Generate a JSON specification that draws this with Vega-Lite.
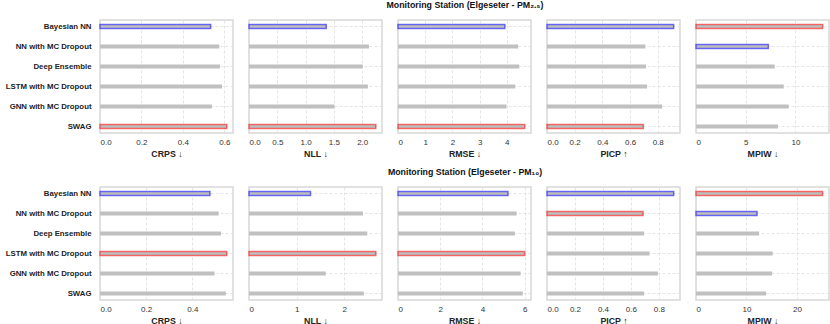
{
  "$schema": "https://vega.github.io/schema/vega-lite/v6.json",
  "background": "white",
  "padding": {"left": 4, "right": 2, "top": 1, "bottom": 0},
  "data": {"values": [
    {"station": "PM2.5", "metric": "CRPS", "model": "Bayesian NN", "value": 0.534, "highlight": "best"},
    {"station": "PM2.5", "metric": "CRPS", "model": "NN with MC Dropout", "value": 0.576, "highlight": "none"},
    {"station": "PM2.5", "metric": "CRPS", "model": "Deep Ensemble", "value": 0.579, "highlight": "none"},
    {"station": "PM2.5", "metric": "CRPS", "model": "LSTM with MC Dropout", "value": 0.589, "highlight": "none"},
    {"station": "PM2.5", "metric": "CRPS", "model": "GNN with MC Dropout", "value": 0.540, "highlight": "none"},
    {"station": "PM2.5", "metric": "CRPS", "model": "SWAG", "value": 0.612, "highlight": "worst"},
    {"station": "PM2.5", "metric": "NLL", "model": "Bayesian NN", "value": 1.365, "highlight": "best"},
    {"station": "PM2.5", "metric": "NLL", "model": "NN with MC Dropout", "value": 2.12, "highlight": "none"},
    {"station": "PM2.5", "metric": "NLL", "model": "Deep Ensemble", "value": 2.01, "highlight": "none"},
    {"station": "PM2.5", "metric": "NLL", "model": "LSTM with MC Dropout", "value": 2.10, "highlight": "none"},
    {"station": "PM2.5", "metric": "NLL", "model": "GNN with MC Dropout", "value": 1.51, "highlight": "none"},
    {"station": "PM2.5", "metric": "NLL", "model": "SWAG", "value": 2.24, "highlight": "worst"},
    {"station": "PM2.5", "metric": "RMSE", "model": "Bayesian NN", "value": 3.93, "highlight": "best"},
    {"station": "PM2.5", "metric": "RMSE", "model": "NN with MC Dropout", "value": 4.42, "highlight": "none"},
    {"station": "PM2.5", "metric": "RMSE", "model": "Deep Ensemble", "value": 4.46, "highlight": "none"},
    {"station": "PM2.5", "metric": "RMSE", "model": "LSTM with MC Dropout", "value": 4.31, "highlight": "none"},
    {"station": "PM2.5", "metric": "RMSE", "model": "GNN with MC Dropout", "value": 3.99, "highlight": "none"},
    {"station": "PM2.5", "metric": "RMSE", "model": "SWAG", "value": 4.66, "highlight": "worst"},
    {"station": "PM2.5", "metric": "PICP", "model": "Bayesian NN", "value": 0.915, "highlight": "best"},
    {"station": "PM2.5", "metric": "PICP", "model": "NN with MC Dropout", "value": 0.711, "highlight": "none"},
    {"station": "PM2.5", "metric": "PICP", "model": "Deep Ensemble", "value": 0.715, "highlight": "none"},
    {"station": "PM2.5", "metric": "PICP", "model": "LSTM with MC Dropout", "value": 0.723, "highlight": "none"},
    {"station": "PM2.5", "metric": "PICP", "model": "GNN with MC Dropout", "value": 0.832, "highlight": "none"},
    {"station": "PM2.5", "metric": "PICP", "model": "SWAG", "value": 0.696, "highlight": "worst"},
    {"station": "PM2.5", "metric": "MPIW", "model": "Bayesian NN", "value": 12.73, "highlight": "worst"},
    {"station": "PM2.5", "metric": "MPIW", "model": "NN with MC Dropout", "value": 7.27, "highlight": "best"},
    {"station": "PM2.5", "metric": "MPIW", "model": "Deep Ensemble", "value": 7.91, "highlight": "none"},
    {"station": "PM2.5", "metric": "MPIW", "model": "LSTM with MC Dropout", "value": 8.82, "highlight": "none"},
    {"station": "PM2.5", "metric": "MPIW", "model": "GNN with MC Dropout", "value": 9.32, "highlight": "none"},
    {"station": "PM2.5", "metric": "MPIW", "model": "SWAG", "value": 8.24, "highlight": "none"},
    {"station": "PM10", "metric": "CRPS", "model": "Bayesian NN", "value": 0.476, "highlight": "best"},
    {"station": "PM10", "metric": "CRPS", "model": "NN with MC Dropout", "value": 0.514, "highlight": "none"},
    {"station": "PM10", "metric": "CRPS", "model": "Deep Ensemble", "value": 0.524, "highlight": "none"},
    {"station": "PM10", "metric": "CRPS", "model": "LSTM with MC Dropout", "value": 0.549, "highlight": "worst"},
    {"station": "PM10", "metric": "CRPS", "model": "GNN with MC Dropout", "value": 0.496, "highlight": "none"},
    {"station": "PM10", "metric": "CRPS", "model": "SWAG", "value": 0.545, "highlight": "none"},
    {"station": "PM10", "metric": "NLL", "model": "Bayesian NN", "value": 1.29, "highlight": "best"},
    {"station": "PM10", "metric": "NLL", "model": "NN with MC Dropout", "value": 2.39, "highlight": "none"},
    {"station": "PM10", "metric": "NLL", "model": "Deep Ensemble", "value": 2.48, "highlight": "none"},
    {"station": "PM10", "metric": "NLL", "model": "LSTM with MC Dropout", "value": 2.66, "highlight": "worst"},
    {"station": "PM10", "metric": "NLL", "model": "GNN with MC Dropout", "value": 1.61, "highlight": "none"},
    {"station": "PM10", "metric": "NLL", "model": "SWAG", "value": 2.41, "highlight": "none"},
    {"station": "PM10", "metric": "RMSE", "model": "Bayesian NN", "value": 5.21, "highlight": "best"},
    {"station": "PM10", "metric": "RMSE", "model": "NN with MC Dropout", "value": 5.62, "highlight": "none"},
    {"station": "PM10", "metric": "RMSE", "model": "Deep Ensemble", "value": 5.54, "highlight": "none"},
    {"station": "PM10", "metric": "RMSE", "model": "LSTM with MC Dropout", "value": 6.0, "highlight": "worst"},
    {"station": "PM10", "metric": "RMSE", "model": "GNN with MC Dropout", "value": 5.81, "highlight": "none"},
    {"station": "PM10", "metric": "RMSE", "model": "SWAG", "value": 5.91, "highlight": "none"},
    {"station": "PM10", "metric": "PICP", "model": "Bayesian NN", "value": 0.906, "highlight": "best"},
    {"station": "PM10", "metric": "PICP", "model": "NN with MC Dropout", "value": 0.687, "highlight": "worst"},
    {"station": "PM10", "metric": "PICP", "model": "Deep Ensemble", "value": 0.694, "highlight": "none"},
    {"station": "PM10", "metric": "PICP", "model": "LSTM with MC Dropout", "value": 0.733, "highlight": "none"},
    {"station": "PM10", "metric": "PICP", "model": "GNN with MC Dropout", "value": 0.793, "highlight": "none"},
    {"station": "PM10", "metric": "PICP", "model": "SWAG", "value": 0.694, "highlight": "none"},
    {"station": "PM10", "metric": "MPIW", "model": "Bayesian NN", "value": 25.1, "highlight": "worst"},
    {"station": "PM10", "metric": "MPIW", "model": "NN with MC Dropout", "value": 12.1, "highlight": "best"},
    {"station": "PM10", "metric": "MPIW", "model": "Deep Ensemble", "value": 12.5, "highlight": "none"},
    {"station": "PM10", "metric": "MPIW", "model": "LSTM with MC Dropout", "value": 15.2, "highlight": "none"},
    {"station": "PM10", "metric": "MPIW", "model": "GNN with MC Dropout", "value": 15.1, "highlight": "none"},
    {"station": "PM10", "metric": "MPIW", "model": "SWAG", "value": 13.9, "highlight": "none"}
  ]},
  "spacing": 9,
  "vconcat": [
    {
      "title": {"text": "Monitoring Station (Elgeseter - PM₂.₅)", "anchor": "middle", "frame": "group", "dx": 365},
      "spacing": 16,
      "bounds": "flush",
      "hconcat": [
        {"width": 133, "height": 113, "transform": [{"filter": "datum.station == 'PM2.5' && datum.metric == 'CRPS'"}],
         "mark": {"type": "bar", "fill": "#c0c0c0", "strokeWidth": 1.5, "strokeOpacity": 0.55},
         "encoding": {
           "y": {"field": "model", "type": "nominal", "sort": null, "scale": {"paddingInner": 0.8, "paddingOuter": 0.225}, "axis": {"title": null, "labelFontWeight": "bold", "labelFontSize": 7.8, "labelColor": "#222", "labelPadding": 9, "bandPosition": 0.5}},
           "x": {"field": "value", "type": "quantitative", "scale": {"domain": [0, 0.642], "nice": false}, "axis": {"title": "CRPS ↓", "values": [0, 0.2, 0.4, 0.6], "format": ".1f"}},
           "stroke": {"field": "highlight", "type": "nominal", "scale": {"domain": ["best", "worst", "none"], "range": ["#0000ff", "#ff0000", "transparent"]}, "legend": null}
         }},
        {"width": 133, "height": 113, "transform": [{"filter": "datum.station == 'PM2.5' && datum.metric == 'NLL'"}],
         "mark": {"type": "bar", "fill": "#c0c0c0", "strokeWidth": 1.5, "strokeOpacity": 0.55},
         "encoding": {
           "y": {"field": "model", "type": "nominal", "sort": null, "scale": {"paddingInner": 0.8, "paddingOuter": 0.225}, "axis": {"title": null, "labels": false, "bandPosition": 0.5}},
           "x": {"field": "value", "type": "quantitative", "scale": {"domain": [0, 2.35], "nice": false}, "axis": {"title": "NLL ↓", "values": [0, 0.5, 1, 1.5, 2], "format": ".1f"}},
           "stroke": {"field": "highlight", "type": "nominal", "scale": {"domain": ["best", "worst", "none"], "range": ["#0000ff", "#ff0000", "transparent"]}, "legend": null}
         }},
        {"width": 133, "height": 113, "transform": [{"filter": "datum.station == 'PM2.5' && datum.metric == 'RMSE'"}],
         "mark": {"type": "bar", "fill": "#c0c0c0", "strokeWidth": 1.5, "strokeOpacity": 0.55},
         "encoding": {
           "y": {"field": "model", "type": "nominal", "sort": null, "scale": {"paddingInner": 0.8, "paddingOuter": 0.225}, "axis": {"title": null, "labels": false, "bandPosition": 0.5}},
           "x": {"field": "value", "type": "quantitative", "scale": {"domain": [0, 4.89], "nice": false}, "axis": {"title": "RMSE ↓", "values": [0, 1, 2, 3, 4], "format": "d"}},
           "stroke": {"field": "highlight", "type": "nominal", "scale": {"domain": ["best", "worst", "none"], "range": ["#0000ff", "#ff0000", "transparent"]}, "legend": null}
         }},
        {"width": 133, "height": 113, "transform": [{"filter": "datum.station == 'PM2.5' && datum.metric == 'PICP'"}],
         "mark": {"type": "bar", "fill": "#c0c0c0", "strokeWidth": 1.5, "strokeOpacity": 0.55},
         "encoding": {
           "y": {"field": "model", "type": "nominal", "sort": null, "scale": {"paddingInner": 0.8, "paddingOuter": 0.225}, "axis": {"title": null, "labels": false, "bandPosition": 0.5}},
           "x": {"field": "value", "type": "quantitative", "scale": {"domain": [0, 0.961], "nice": false}, "axis": {"title": "PICP ↑", "values": [0, 0.2, 0.4, 0.6, 0.8], "format": ".1f"}},
           "stroke": {"field": "highlight", "type": "nominal", "scale": {"domain": ["best", "worst", "none"], "range": ["#0000ff", "#ff0000", "transparent"]}, "legend": null}
         }},
        {"width": 133, "height": 113, "transform": [{"filter": "datum.station == 'PM2.5' && datum.metric == 'MPIW'"}],
         "mark": {"type": "bar", "fill": "#c0c0c0", "strokeWidth": 1.5, "strokeOpacity": 0.55},
         "encoding": {
           "y": {"field": "model", "type": "nominal", "sort": null, "scale": {"paddingInner": 0.8, "paddingOuter": 0.225}, "axis": {"title": null, "labels": false, "bandPosition": 0.5}},
           "x": {"field": "value", "type": "quantitative", "scale": {"domain": [0, 13.37], "nice": false}, "axis": {"title": "MPIW ↓", "values": [0, 5, 10], "format": "d"}},
           "stroke": {"field": "highlight", "type": "nominal", "scale": {"domain": ["best", "worst", "none"], "range": ["#0000ff", "#ff0000", "transparent"]}, "legend": null}
         }}
      ]
    },
    {
      "title": {"text": "Monitoring Station (Elgeseter - PM₁₀)", "anchor": "middle", "frame": "group", "dx": 365},
      "spacing": 16,
      "bounds": "flush",
      "hconcat": [
        {"width": 133, "height": 113, "transform": [{"filter": "datum.station == 'PM10' && datum.metric == 'CRPS'"}],
         "mark": {"type": "bar", "fill": "#c0c0c0", "strokeWidth": 1.5, "strokeOpacity": 0.55},
         "encoding": {
           "y": {"field": "model", "type": "nominal", "sort": null, "scale": {"paddingInner": 0.8, "paddingOuter": 0.225}, "axis": {"title": null, "labelFontWeight": "bold", "labelFontSize": 7.8, "labelColor": "#222", "labelPadding": 9, "bandPosition": 0.5}},
           "x": {"field": "value", "type": "quantitative", "scale": {"domain": [0, 0.576], "nice": false}, "axis": {"title": "CRPS ↓", "values": [0, 0.2, 0.4], "format": ".1f"}},
           "stroke": {"field": "highlight", "type": "nominal", "scale": {"domain": ["best", "worst", "none"], "range": ["#0000ff", "#ff0000", "transparent"]}, "legend": null}
         }},
        {"width": 133, "height": 113, "transform": [{"filter": "datum.station == 'PM10' && datum.metric == 'NLL'"}],
         "mark": {"type": "bar", "fill": "#c0c0c0", "strokeWidth": 1.5, "strokeOpacity": 0.55},
         "encoding": {
           "y": {"field": "model", "type": "nominal", "sort": null, "scale": {"paddingInner": 0.8, "paddingOuter": 0.225}, "axis": {"title": null, "labels": false, "bandPosition": 0.5}},
           "x": {"field": "value", "type": "quantitative", "scale": {"domain": [0, 2.79], "nice": false}, "axis": {"title": "NLL ↓", "values": [0, 1, 2], "format": "d"}},
           "stroke": {"field": "highlight", "type": "nominal", "scale": {"domain": ["best", "worst", "none"], "range": ["#0000ff", "#ff0000", "transparent"]}, "legend": null}
         }},
        {"width": 133, "height": 113, "transform": [{"filter": "datum.station == 'PM10' && datum.metric == 'RMSE'"}],
         "mark": {"type": "bar", "fill": "#c0c0c0", "strokeWidth": 1.5, "strokeOpacity": 0.55},
         "encoding": {
           "y": {"field": "model", "type": "nominal", "sort": null, "scale": {"paddingInner": 0.8, "paddingOuter": 0.225}, "axis": {"title": null, "labels": false, "bandPosition": 0.5}},
           "x": {"field": "value", "type": "quantitative", "scale": {"domain": [0, 6.3], "nice": false}, "axis": {"title": "RMSE ↓", "values": [0, 2, 4, 6], "format": "d"}},
           "stroke": {"field": "highlight", "type": "nominal", "scale": {"domain": ["best", "worst", "none"], "range": ["#0000ff", "#ff0000", "transparent"]}, "legend": null}
         }},
        {"width": 133, "height": 113, "transform": [{"filter": "datum.station == 'PM10' && datum.metric == 'PICP'"}],
         "mark": {"type": "bar", "fill": "#c0c0c0", "strokeWidth": 1.5, "strokeOpacity": 0.55},
         "encoding": {
           "y": {"field": "model", "type": "nominal", "sort": null, "scale": {"paddingInner": 0.8, "paddingOuter": 0.225}, "axis": {"title": null, "labels": false, "bandPosition": 0.5}},
           "x": {"field": "value", "type": "quantitative", "scale": {"domain": [0, 0.951], "nice": false}, "axis": {"title": "PICP ↑", "values": [0, 0.2, 0.4, 0.6, 0.8], "format": ".1f"}},
           "stroke": {"field": "highlight", "type": "nominal", "scale": {"domain": ["best", "worst", "none"], "range": ["#0000ff", "#ff0000", "transparent"]}, "legend": null}
         }},
        {"width": 133, "height": 113, "transform": [{"filter": "datum.station == 'PM10' && datum.metric == 'MPIW'"}],
         "mark": {"type": "bar", "fill": "#c0c0c0", "strokeWidth": 1.5, "strokeOpacity": 0.55},
         "encoding": {
           "y": {"field": "model", "type": "nominal", "sort": null, "scale": {"paddingInner": 0.8, "paddingOuter": 0.225}, "axis": {"title": null, "labels": false, "bandPosition": 0.5}},
           "x": {"field": "value", "type": "quantitative", "scale": {"domain": [0, 26.36], "nice": false}, "axis": {"title": "MPIW ↓", "values": [0, 10, 20], "format": "d"}},
           "stroke": {"field": "highlight", "type": "nominal", "scale": {"domain": ["best", "worst", "none"], "range": ["#0000ff", "#ff0000", "transparent"]}, "legend": null}
         }}
      ]
    }
  ],
  "resolve": {"scale": {"x": "independent", "y": "independent", "stroke": "shared"}},
  "config": {
    "font": "Liberation Sans",
    "view": {"stroke": "#d8d8d8", "strokeWidth": 1.5},
    "axis": {"grid": true, "gridDash": [3, 2], "gridColor": "#dddddd", "gridWidth": 0.8, "ticks": false, "domain": false, "labelFontSize": 8, "labelColor": "#333333", "labelPadding": 5, "titleFontSize": 8.8, "titleFontWeight": "bold", "titleColor": "#222222", "titlePadding": 3},
    "title": {"fontSize": 8.8, "fontWeight": "bold", "color": "#111111", "offset": 9}
  }
}
